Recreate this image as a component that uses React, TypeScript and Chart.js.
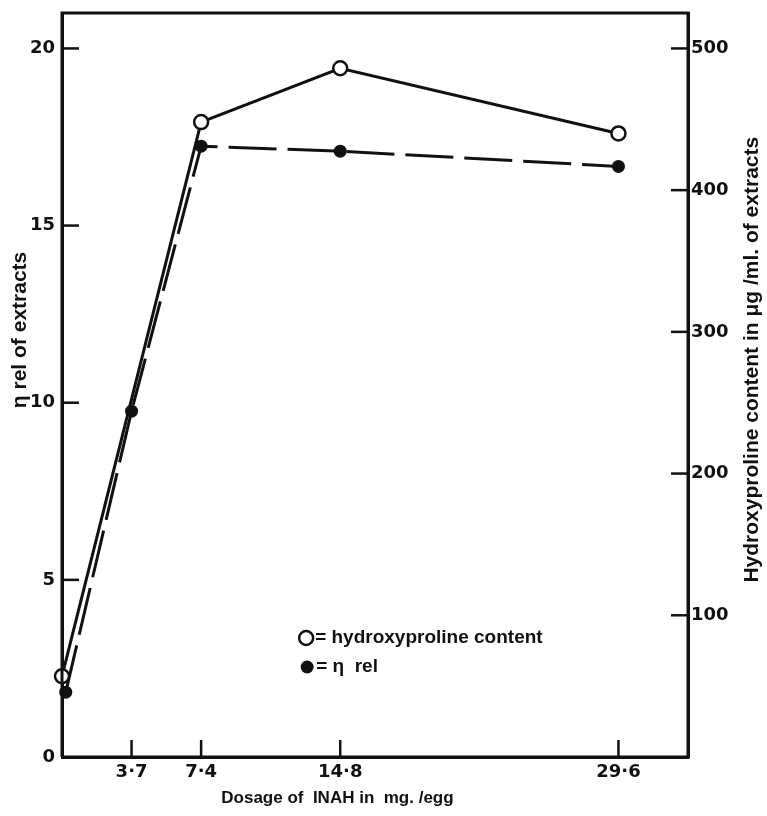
import React, { useEffect, useRef } from "react";
import { Chart, registerables } from "chart.js";

Chart.register(...registerables);

// ---- data ----
const hypDosage = [0, 7.4, 14.8, 29.6];
const hydroxyproline = [57, 448, 486, 440]; // µg/ml (right axis)
const etaDosage = [0.2, 3.7, 7.4, 14.8, 29.6];
const etaRel = [1.83, 9.76, 17.24, 17.1, 16.67]; // η rel (left axis)

const xTickValues = [3.7, 7.4, 14.8, 29.6];
const xTickLabels = ["3·7", "7·4", "14·8", "29·6"];
const leftTickValues = [0, 5, 10, 15, 20];
const rightTickValues = [100, 200, 300, 400, 500];

const xTitle = "Dosage of  INAH in  mg. /egg";
const leftTitle = "η rel of extracts";
const rightTitle = "Hydroxyproline content in μg /ml. of extracts";
const legendOpen = "= hydroxyproline content";
const legendFilled = "= η  rel";

const INK = "#111";
const TICK_FONT = "DejaVu Sans";
const TEXT_FONT = "Liberation Sans";

const W = 767;
const H = 816;

const decorPlugin = {
  id: "decor",
  afterDraw(chart: any) {
    const { ctx, chartArea, scales } = chart;
    const { left, right, top, bottom } = chartArea;
    ctx.save();
    ctx.strokeStyle = INK;
    ctx.lineWidth = 3;
    ctx.lineCap = "butt";
    // frame
    ctx.beginPath();
    ctx.moveTo(left, bottom);
    ctx.lineTo(left, top);
    ctx.lineTo(right, top);
    ctx.lineTo(right, bottom);
    ctx.lineTo(left, bottom);
    ctx.stroke();
    // inward tick marks
    const TL = 17;
    ctx.lineWidth = 2.5;
    scales.x.ticks.forEach((t: any) => {
      const px = scales.x.getPixelForValue(t.value);
      ctx.beginPath();
      ctx.moveTo(px, bottom);
      ctx.lineTo(px, bottom - TL);
      ctx.stroke();
    });
    scales.y.ticks.forEach((t: any) => {
      if (t.value === 0) return;
      const py = scales.y.getPixelForValue(t.value);
      ctx.beginPath();
      ctx.moveTo(left, py);
      ctx.lineTo(left + TL, py);
      ctx.stroke();
    });
    scales.y1.ticks.forEach((t: any) => {
      const py = scales.y1.getPixelForValue(t.value);
      ctx.beginPath();
      ctx.moveTo(right, py);
      ctx.lineTo(right - TL, py);
      ctx.stroke();
    });

    // axis titles
    ctx.fillStyle = INK;
    ctx.textAlign = "center";
    ctx.textBaseline = "middle";
    ctx.font = `bold 17px "${TEXT_FONT}"`;
    ctx.fillText(xTitle, left + (right - left) * 0.44, bottom + 41);

    ctx.font = `bold 21px "${TEXT_FONT}"`;
    ctx.save();
    ctx.translate(20, top + (bottom - top) * 0.426);
    ctx.rotate(-Math.PI / 2);
    ctx.fillText(leftTitle, 0, 0);
    ctx.restore();

    ctx.save();
    ctx.translate(right + 64, top + (bottom - top) * 0.466);
    ctx.rotate(-Math.PI / 2);
    ctx.fillText(rightTitle, 0, 0);
    ctx.restore();

    // legend inside plot
    const lx = left + (right - left) * 0.39;
    const ly1 = bottom - 119;
    const ly2 = bottom - 90;
    ctx.font = `bold 19px "${TEXT_FONT}"`;
    ctx.textAlign = "left";
    ctx.lineWidth = 2.5;
    ctx.fillStyle = "#fff";
    ctx.beginPath();
    ctx.arc(lx, ly1, 7, 0, Math.PI * 2);
    ctx.fill();
    ctx.stroke();
    ctx.fillStyle = INK;
    ctx.fillText(legendOpen, lx + 9, ly1);
    ctx.beginPath();
    ctx.arc(lx + 1, ly2, 6.5, 0, Math.PI * 2);
    ctx.fill();
    ctx.fillText(legendFilled, lx + 10, ly2);
    ctx.restore();
  },
};

export default function App() {
  const ref = useRef<HTMLCanvasElement>(null);

  useEffect(() => {
    if (!ref.current) return;
    const tickFont = { family: TICK_FONT, size: 18, weight: "bold" as const };
    const chart = new Chart(ref.current, {
      type: "line",
      data: {
        datasets: [
          {
            label: "hydroxyproline content",
            data: hypDosage.map((x, i) => ({ x, y: hydroxyproline[i] })),
            yAxisID: "y1",
            borderColor: INK,
            borderWidth: 3,
            pointRadius: 7,
            pointBorderWidth: 2.5,
            pointBackgroundColor: "#fff",
            pointBorderColor: INK,
            tension: 0,
            clip: false,
          },
          {
            label: "η rel",
            data: etaDosage.map((x, i) => ({ x, y: etaRel[i] })),
            yAxisID: "y",
            borderColor: INK,
            borderWidth: 3,
            borderDash: [48, 11],
            pointRadius: 6.5,
            pointBorderWidth: 0,
            pointBackgroundColor: INK,
            pointBorderColor: INK,
            tension: 0,
            clip: false,
          },
        ],
      },
      options: {
        animation: false,
        responsive: false,
        maintainAspectRatio: false,
        layout: { padding: { top: 13, left: 0, right: 0, bottom: 0 } },
        plugins: { legend: { display: false }, tooltip: { enabled: false } },
        scales: {
          x: {
            type: "linear",
            min: 0,
            max: 33.3,
            grid: { display: false, drawTicks: false },
            border: { display: true, color: INK, width: 3 },
            afterBuildTicks: (s: any) => {
              s.ticks = xTickValues.map((v) => ({ value: v }));
            },
            ticks: {
              color: INK,
              font: tickFont,
              padding: 5,
              autoSkip: false,
              maxRotation: 0,
              callback: (v: any) => {
                const i = xTickValues.indexOf(Number(v));
                return i >= 0 ? xTickLabels[i] : "";
              },
            },
            afterFit: (s: any) => {
              s.height = H - 757;
              s.paddingLeft = 0;
              s.paddingRight = 0;
            },
          },
          y: {
            type: "linear",
            position: "left",
            min: 0,
            max: 21,
            grid: { display: false, drawTicks: false },
            border: { display: true, color: INK, width: 3 },
            afterBuildTicks: (s: any) => {
              s.ticks = leftTickValues.map((v) => ({ value: v }));
            },
            ticks: {
              color: INK,
              font: tickFont,
              padding: 7,
              autoSkip: false,
              callback: (v: any) => String(v),
            },
            afterFit: (s: any) => {
              s.width = 62;
              s.paddingTop = 0;
              s.paddingBottom = 0;
            },
          },
          y1: {
            type: "linear",
            position: "right",
            min: 0,
            max: 525,
            grid: { display: false, drawTicks: false },
            border: { display: true, color: INK, width: 3 },
            afterBuildTicks: (s: any) => {
              s.ticks = rightTickValues.map((v) => ({ value: v }));
            },
            ticks: {
              color: INK,
              font: tickFont,
              padding: 3,
              autoSkip: false,
              callback: (v: any) => String(v),
            },
            afterFit: (s: any) => {
              s.width = W - 688;
              s.paddingTop = 0;
              s.paddingBottom = 0;
            },
          },
        },
      },
      plugins: [decorPlugin],
    } as any);
    return () => chart.destroy();
  }, []);

  return (
    <div style={{ position: "absolute", left: 0, top: 0, width: W, height: H, background: "#fff" }}>
      <canvas ref={ref} width={W} height={H} style={{ width: W, height: H, display: "block" }} />
    </div>
  );
}
